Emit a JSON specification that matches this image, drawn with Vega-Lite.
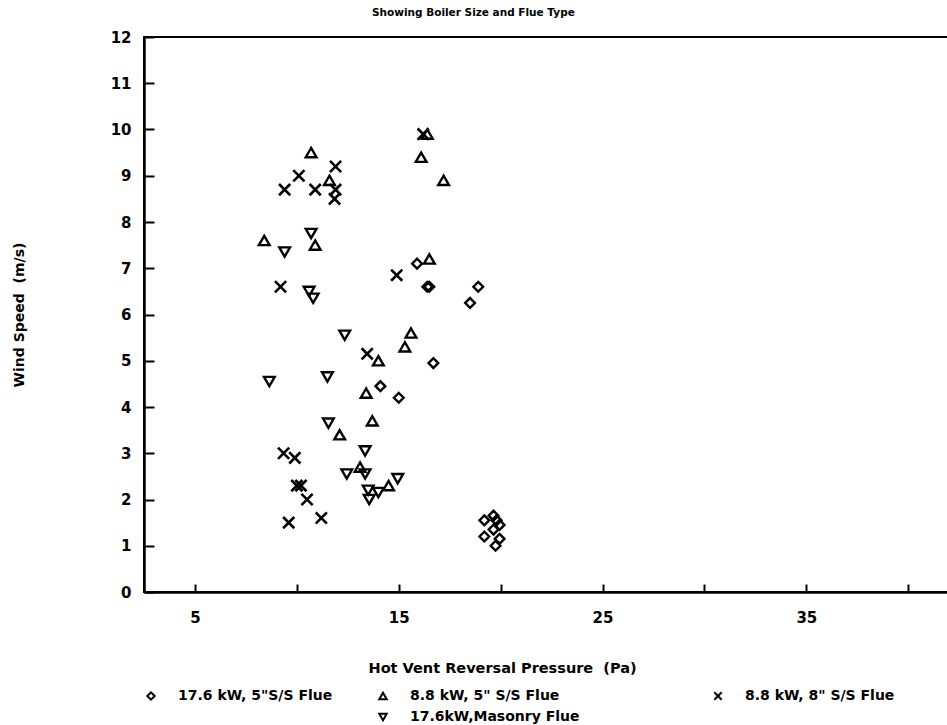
{
  "$schema": "https://vega.github.io/schema/vega-lite/v6.json",
  "width": 805,
  "height": 555,
  "autosize": "none",
  "padding": {"left": 144, "top": 37, "right": 0, "bottom": 133},
  "background": "white",
  "config": {
    "view": {"stroke": "black", "strokeWidth": 2},
    "font": "DejaVu Sans",
    "legend": {"padding": 0}
  },
  "title": {
    "text": "Showing Boiler Size and Flue Type",
    "font": "DejaVu Sans",
    "fontSize": 10.5,
    "fontWeight": "bold",
    "anchor": "start",
    "frame": "group",
    "dx": 228,
    "offset": 12,
    "color": "black"
  },
  "data": {
    "values": [
      {"x": 15.9, "y": 7.1, "s": "17.6 kW, 5\"S/S Flue"},
      {"x": 16.4, "y": 6.6, "s": "17.6 kW, 5\"S/S Flue"},
      {"x": 16.5, "y": 6.6, "s": "17.6 kW, 5\"S/S Flue"},
      {"x": 18.9, "y": 6.6, "s": "17.6 kW, 5\"S/S Flue"},
      {"x": 18.5, "y": 6.25, "s": "17.6 kW, 5\"S/S Flue"},
      {"x": 16.7, "y": 4.95, "s": "17.6 kW, 5\"S/S Flue"},
      {"x": 14.1, "y": 4.45, "s": "17.6 kW, 5\"S/S Flue"},
      {"x": 15.0, "y": 4.2, "s": "17.6 kW, 5\"S/S Flue"},
      {"x": 19.2, "y": 1.55, "s": "17.6 kW, 5\"S/S Flue"},
      {"x": 19.65, "y": 1.65, "s": "17.6 kW, 5\"S/S Flue"},
      {"x": 19.8, "y": 1.55, "s": "17.6 kW, 5\"S/S Flue"},
      {"x": 19.95, "y": 1.45, "s": "17.6 kW, 5\"S/S Flue"},
      {"x": 19.65, "y": 1.35, "s": "17.6 kW, 5\"S/S Flue"},
      {"x": 19.2, "y": 1.2, "s": "17.6 kW, 5\"S/S Flue"},
      {"x": 19.95, "y": 1.15, "s": "17.6 kW, 5\"S/S Flue"},
      {"x": 19.75, "y": 1.0, "s": "17.6 kW, 5\"S/S Flue"},
      {"x": 10.7, "y": 9.5, "s": "8.8 kW, 5\" S/S Flue"},
      {"x": 11.6, "y": 8.9, "s": "8.8 kW, 5\" S/S Flue"},
      {"x": 8.4, "y": 7.6, "s": "8.8 kW, 5\" S/S Flue"},
      {"x": 10.9, "y": 7.5, "s": "8.8 kW, 5\" S/S Flue"},
      {"x": 16.4, "y": 9.9, "s": "8.8 kW, 5\" S/S Flue"},
      {"x": 16.1, "y": 9.4, "s": "8.8 kW, 5\" S/S Flue"},
      {"x": 17.2, "y": 8.9, "s": "8.8 kW, 5\" S/S Flue"},
      {"x": 16.5, "y": 7.2, "s": "8.8 kW, 5\" S/S Flue"},
      {"x": 15.6, "y": 5.6, "s": "8.8 kW, 5\" S/S Flue"},
      {"x": 15.3, "y": 5.3, "s": "8.8 kW, 5\" S/S Flue"},
      {"x": 14.0, "y": 5.0, "s": "8.8 kW, 5\" S/S Flue"},
      {"x": 13.4, "y": 4.3, "s": "8.8 kW, 5\" S/S Flue"},
      {"x": 13.7, "y": 3.7, "s": "8.8 kW, 5\" S/S Flue"},
      {"x": 12.1, "y": 3.4, "s": "8.8 kW, 5\" S/S Flue"},
      {"x": 13.1, "y": 2.7, "s": "8.8 kW, 5\" S/S Flue"},
      {"x": 14.5, "y": 2.3, "s": "8.8 kW, 5\" S/S Flue"},
      {"x": 11.9, "y": 9.2, "s": "8.8 kW, 8\" S/S Flue"},
      {"x": 10.1, "y": 9.0, "s": "8.8 kW, 8\" S/S Flue"},
      {"x": 9.4, "y": 8.7, "s": "8.8 kW, 8\" S/S Flue"},
      {"x": 10.9, "y": 8.7, "s": "8.8 kW, 8\" S/S Flue"},
      {"x": 11.9, "y": 8.7, "s": "8.8 kW, 8\" S/S Flue"},
      {"x": 11.85, "y": 8.5, "s": "8.8 kW, 8\" S/S Flue"},
      {"x": 9.2, "y": 6.6, "s": "8.8 kW, 8\" S/S Flue"},
      {"x": 14.9, "y": 6.85, "s": "8.8 kW, 8\" S/S Flue"},
      {"x": 16.2, "y": 9.9, "s": "8.8 kW, 8\" S/S Flue"},
      {"x": 13.45, "y": 5.15, "s": "8.8 kW, 8\" S/S Flue"},
      {"x": 9.35, "y": 3.0, "s": "8.8 kW, 8\" S/S Flue"},
      {"x": 9.9, "y": 2.9, "s": "8.8 kW, 8\" S/S Flue"},
      {"x": 10.0, "y": 2.3, "s": "8.8 kW, 8\" S/S Flue"},
      {"x": 10.2, "y": 2.3, "s": "8.8 kW, 8\" S/S Flue"},
      {"x": 10.5, "y": 2.0, "s": "8.8 kW, 8\" S/S Flue"},
      {"x": 9.6, "y": 1.5, "s": "8.8 kW, 8\" S/S Flue"},
      {"x": 11.2, "y": 1.6, "s": "8.8 kW, 8\" S/S Flue"},
      {"x": 10.7, "y": 7.75, "s": "17.6kW,Masonry Flue"},
      {"x": 9.4, "y": 7.35, "s": "17.6kW,Masonry Flue"},
      {"x": 10.6, "y": 6.5, "s": "17.6kW,Masonry Flue"},
      {"x": 10.8, "y": 6.35, "s": "17.6kW,Masonry Flue"},
      {"x": 8.65, "y": 4.55, "s": "17.6kW,Masonry Flue"},
      {"x": 11.5, "y": 4.65, "s": "17.6kW,Masonry Flue"},
      {"x": 11.55, "y": 3.65, "s": "17.6kW,Masonry Flue"},
      {"x": 12.35, "y": 5.55, "s": "17.6kW,Masonry Flue"},
      {"x": 13.35, "y": 3.05, "s": "17.6kW,Masonry Flue"},
      {"x": 12.45, "y": 2.55, "s": "17.6kW,Masonry Flue"},
      {"x": 13.35, "y": 2.55, "s": "17.6kW,Masonry Flue"},
      {"x": 14.95, "y": 2.45, "s": "17.6kW,Masonry Flue"},
      {"x": 13.5, "y": 2.2, "s": "17.6kW,Masonry Flue"},
      {"x": 14.0, "y": 2.15, "s": "17.6kW,Masonry Flue"},
      {"x": 13.55, "y": 2.0, "s": "17.6kW,Masonry Flue"}
    ]
  },
  "encoding": {
    "x": {
      "field": "x",
      "type": "quantitative",
      "scale": {"domain": [2.5, 42], "nice": false, "zero": false},
      "axis": {
        "title": "Hot Vent Reversal Pressure \u00a0(Pa)",
        "titleFont": "DejaVu Sans",
        "titleFontSize": 14.5,
        "titleFontWeight": "bold",
        "titleColor": "black",
        "titleAnchor": "start",
        "titleX": 224,
        "titlePadding": 36,
        "values": [5, 10, 15, 20, 25, 30, 35, 40],
        "labelExpr": "datum.value % 10 == 5 ? datum.label : ''",
        "labelFont": "DejaVu Sans",
        "labelFontSize": 15,
        "labelFontWeight": "bold",
        "labelColor": "black",
        "labelPadding": 26,
        "tickSize": -8,
        "tickWidth": 2,
        "tickColor": "black",
        "domainColor": "black",
        "domainWidth": 2.5,
        "grid": false
      }
    },
    "y": {
      "field": "y",
      "type": "quantitative",
      "scale": {"domain": [0, 12], "nice": false},
      "axis": {
        "title": "Wind Speed \u00a0(m/s)",
        "titleFont": "DejaVu Sans",
        "titleFontSize": 14,
        "titleFontWeight": "bold",
        "titleColor": "black",
        "titlePadding": 84,
        "values": [0, 1, 2, 3, 4, 5, 6, 7, 8, 9, 10, 11, 12],
        "labelFont": "DejaVu Sans",
        "labelFontSize": 15,
        "labelFontWeight": "bold",
        "labelColor": "black",
        "labelPadding": 23,
        "tickSize": -10,
        "tickWidth": 2,
        "tickColor": "black",
        "domainColor": "black",
        "domainWidth": 2.5,
        "grid": false
      }
    }
  },
  "layer": [
    {
      "transform": [{"filter": "datum.s == '17.6 kW, 5\"S/S Flue'"}],
      "mark": {"type": "point", "filled": false, "stroke": "black", "opacity": 1, "strokeWidth": 2.4, "size": 95},
      "encoding": {
        "shape": {
          "field": "s", "type": "nominal",
          "scale": {"domain": ["17.6 kW, 5\"S/S Flue"], "range": ["diamond"]},
          "legend": {"orient": "none", "legendX": 0, "legendY": 652, "title": null, "symbolSize": 55, "symbolStrokeWidth": 2, "symbolStrokeColor": "black", "symbolOpacity": 1, "labelFont": "DejaVu Sans", "labelFontSize": 14, "labelFontWeight": "bold", "labelColor": "black", "labelOffset": 20, "labelLimit": 400}
        }
      }
    },
    {
      "transform": [{"filter": "datum.s == '8.8 kW, 5\" S/S Flue'"}],
      "mark": {"type": "point", "filled": false, "stroke": "black", "opacity": 1, "strokeWidth": 2.4, "size": 115},
      "encoding": {
        "shape": {
          "field": "s", "type": "nominal",
          "scale": {"domain": ["8.8 kW, 5\" S/S Flue"], "range": ["triangle-up"]},
          "legend": {"orient": "none", "legendX": 232, "legendY": 652, "title": null, "symbolSize": 55, "symbolStrokeWidth": 2, "symbolStrokeColor": "black", "symbolOpacity": 1, "labelFont": "DejaVu Sans", "labelFontSize": 14, "labelFontWeight": "bold", "labelColor": "black", "labelOffset": 20, "labelLimit": 400}
        }
      }
    },
    {
      "transform": [{"filter": "datum.s == '8.8 kW, 8\" S/S Flue'"}],
      "mark": {"type": "point", "filled": false, "stroke": "black", "opacity": 1, "strokeWidth": 2.6, "size": 125},
      "encoding": {
        "shape": {
          "field": "s", "type": "nominal",
          "scale": {"domain": ["8.8 kW, 8\" S/S Flue"], "range": ["M-1,-1L1,1M1,-1L-1,1"]},
          "legend": {"orient": "none", "legendX": 567, "legendY": 652, "title": null, "symbolSize": 55, "symbolStrokeWidth": 2, "symbolStrokeColor": "black", "symbolOpacity": 1, "labelFont": "DejaVu Sans", "labelFontSize": 14, "labelFontWeight": "bold", "labelColor": "black", "labelOffset": 20, "labelLimit": 400}
        }
      }
    },
    {
      "transform": [{"filter": "datum.s == '17.6kW,Masonry Flue'"}],
      "mark": {"type": "point", "filled": false, "stroke": "black", "opacity": 1, "strokeWidth": 2.4, "size": 115},
      "encoding": {
        "shape": {
          "field": "s", "type": "nominal",
          "scale": {"domain": ["17.6kW,Masonry Flue"], "range": ["triangle-down"]},
          "legend": {"orient": "none", "legendX": 232, "legendY": 673, "title": null, "symbolSize": 55, "symbolStrokeWidth": 2, "symbolStrokeColor": "black", "symbolOpacity": 1, "labelFont": "DejaVu Sans", "labelFontSize": 14, "labelFontWeight": "bold", "labelColor": "black", "labelOffset": 20, "labelLimit": 400}
        }
      }
    }
  ],
  "resolve": {"scale": {"shape": "independent"}, "legend": {"shape": "independent"}}
}
